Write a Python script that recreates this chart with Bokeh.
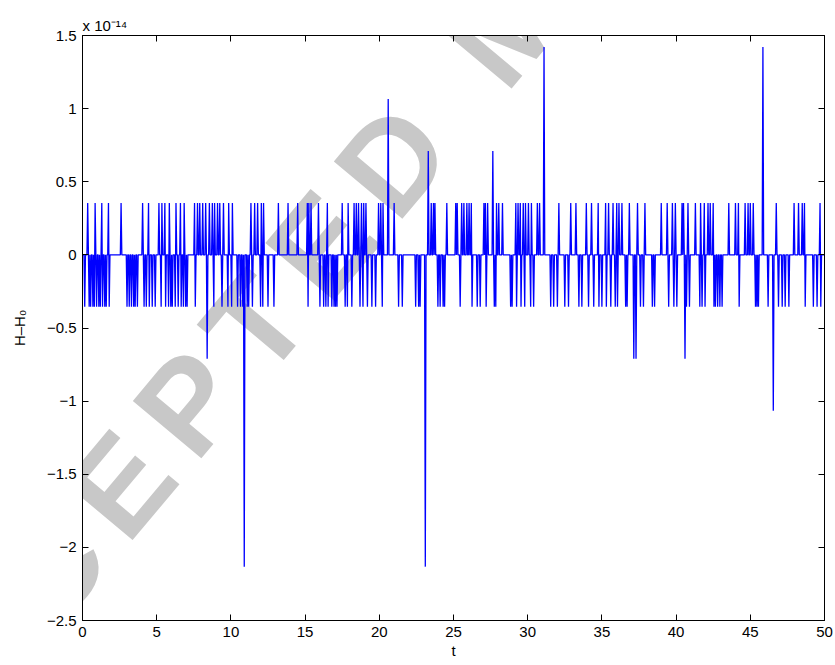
import math
import numpy as np
from bokeh.plotting import figure
from bokeh.models import Range1d, LinearAxis, FixedTicker, Label
from bokeh.embed import file_html
from bokeh.resources import INLINE

# ---- data ----
dt = 0.05
t_end = 50.0
unit = 2.0 ** -48 / 1e-14          # one round-off step, in units of 1e-14

up_t = [0.35, 0.85, 1.30, 1.75, 2.60, 4.05, 4.45, 5.15, 5.35, 5.55, 5.85, 6.30, 6.60, 6.85,
        7.55, 7.75, 7.90, 8.10, 8.30, 8.55, 8.75, 8.90, 9.10, 9.25, 9.50, 9.85, 10.10, 11.35,
        11.60, 11.80, 12.05, 12.20, 13.20, 13.85, 14.50, 15.15,
        15.25, 15.40, 15.90, 16.50, 17.50, 17.90, 18.30, 18.45, 18.60, 18.80, 18.95, 19.10,
        19.95, 20.10, 20.25, 21.00, 23.50, 23.65, 23.75,
        24.55, 25.15, 25.25, 25.55, 25.70, 25.90, 26.05, 26.20, 27.05, 27.15, 27.30, 27.90,
        28.05, 28.30, 29.20, 29.35, 29.50, 29.70, 29.85, 30.05, 30.25, 30.65, 30.80, 32.10,
        32.90, 33.25, 33.95, 34.30, 34.75, 35.25, 35.45, 35.75, 36.00, 36.15, 36.35, 36.85,
        37.40, 37.90, 39.00, 39.40, 39.75, 39.95,
        40.40, 40.50, 40.80, 41.30, 41.65, 41.90, 42.15, 42.30, 42.50, 43.55, 44.00, 44.20,
        44.65, 44.85, 45.00, 45.20, 46.75, 47.95, 48.25, 48.50, 48.65, 49.70]

down_t = [0.15, 0.45, 0.55, 0.70, 0.80, 0.95, 1.10, 1.20, 1.35, 1.50, 1.60, 1.80, 3.00, 3.15,
          3.30, 3.45, 3.55, 3.70, 4.15, 4.30, 4.50, 4.70, 4.90, 5.30, 5.60, 5.80, 5.95, 6.05,
          6.25, 6.45, 6.65, 6.80,
          6.95, 7.05, 7.60, 8.85, 9.40, 9.80, 10.05, 10.45, 10.65, 10.80, 11.10, 11.20, 11.45,
          12.00, 12.15, 12.50, 12.90,
          15.20, 16.00, 16.25, 16.40, 16.55, 16.80, 16.95, 17.05, 17.15, 17.70, 17.85, 18.15,
          18.70, 18.90, 19.20, 19.50, 19.75, 20.20, 21.30, 21.55, 22.45, 22.65, 22.75,
          23.95, 24.10, 24.30, 24.40, 25.45, 26.25, 26.60, 26.80, 27.20, 27.75, 27.85, 28.85,
          28.95, 29.25, 29.55, 29.80, 30.20, 30.40, 31.55, 31.75, 32.00,
          32.50, 32.75, 33.45, 33.65, 34.10, 34.45, 34.80, 35.00, 35.30, 35.60, 35.90, 36.05,
          36.60, 36.70, 37.60, 37.80, 38.40, 38.55, 39.50, 39.85, 40.05,
          40.70, 40.90, 41.60, 41.75, 41.95, 42.55, 42.65, 42.80, 42.95, 43.10, 44.25, 45.35,
          45.45, 45.55, 46.20, 46.90, 47.15, 47.35, 47.60, 48.70, 49.25, 49.50, 49.75]

spike_t = [8.40, 10.90, 20.60, 23.10, 23.30, 27.65, 31.10, 37.15, 37.30, 40.60, 45.85, 46.55]
spike_k = [-2, -6, 3, -6, 2, 2, 4, -2, -2, -2, 4, -3]

x_ticks = [0, 5, 10, 15, 20, 25, 30, 35, 40, 45, 50]
y_ticks = [-2.5, -2.0, -1.5, -1.0, -0.5, 0.0, 0.5, 1.0, 1.5]
y_tick_labels = ["\u22122.5", "\u22122", "\u22121.5", "\u22121", "\u22120.5", "0", "0.5", "1", "1.5"]

watermark = "ACCEPTED MANUSCRIPT"

# ---- build the series ----
n = int(round(t_end / dt)) + 1
t = np.arange(n) * dt
k = np.zeros(n)
k[np.rint(np.array(up_t) / dt).astype(int)] = 1
k[np.rint(np.array(down_t) / dt).astype(int)] = -1
k[np.rint(np.array(spike_t) / dt).astype(int)] = spike_k
h = k * unit

# ---- geometry of the frame on the canvas (pixels) ----
W, H = 835, 665
FL, FR, FT, FB = 82, 824, 35, 620
def to_data(px, py):
    return (px - FL) / (FR - FL) * 50.0, 1.5 - (py - FT) / (FB - FT) * 4.0

FONT = "Liberation Sans"

p = figure(width=W, height=H, output_backend="svg", toolbar_location=None,
           x_range=Range1d(0, 50), y_range=Range1d(-2.5, 1.5),
           min_border_left=FL, min_border_right=W - FR, min_border_top=FT,
           min_border_bottom=H - FB,
           background_fill_color="white", border_fill_color="white")
p.grid.visible = False
p.outline_line_color = "black"
p.outline_line_width = 1

# exponent of the y axis, written above the top-left corner
p.title.text = "x 10\u207b\u00b9\u2074"
p.title.align = "left"
p.title.text_font = FONT
p.title.text_font_size = "15px"
p.title.text_font_style = "normal"
p.title.text_color = "black"
p.title.standoff = 3

for ax in (p.xaxis[0], p.yaxis[0]):
    ax.major_tick_in = 6
    ax.major_tick_out = 0
    ax.minor_tick_line_color = None
    ax.axis_line_color = "black"
    ax.major_tick_line_color = "black"
    ax.major_label_text_font = FONT
    ax.major_label_text_font_size = "15px"
    ax.major_label_text_color = "black"
    ax.axis_label_text_font = FONT
    ax.axis_label_text_font_size = "15px"
    ax.axis_label_text_font_style = "normal"
    ax.axis_label_text_color = "black"

p.xaxis[0].ticker = FixedTicker(ticks=x_ticks)
p.xaxis[0].major_label_standoff = 6
p.xaxis[0].axis_label = "t"
p.xaxis[0].axis_label_standoff = 2
p.yaxis[0].ticker = FixedTicker(ticks=y_ticks)
p.yaxis[0].major_label_overrides = {v: s for v, s in zip(y_ticks, y_tick_labels)}
p.yaxis[0].major_label_standoff = 6
p.yaxis[0].axis_label = "H\u2013H\u2080"
p.yaxis[0].axis_label_standoff = 16

# ticks on the top and right sides of the box (no labels there)
for loc, tk in (("above", x_ticks), ("right", y_ticks)):
    ax = LinearAxis(ticker=FixedTicker(ticks=tk))
    ax.major_tick_in = 6
    ax.major_tick_out = 0
    ax.minor_tick_line_color = None
    ax.major_label_text_font_size = "1px"
    ax.major_label_text_color = None
    ax.major_label_standoff = 0
    ax.axis_line_color = "black"
    p.add_layout(ax, loc)

# watermark: spaced capitals along a diagonal, under the curve
wm_size = 130.0                      # px
wm_track = 20.0                      # extra px between letters
wm_angle = math.radians(50)
wm_adv = {"A": .722, "C": .722, "E": .667, "P": .667, "T": .611, "D": .722, " ": .278,
          "M": .833, "N": .722, "U": .722, "S": .667, "R": .722, "I": .278}
centers = [0.0]
for a, b in zip(watermark[:-1], watermark[1:]):
    centers.append(centers[-1] + (wm_adv[a] + wm_adv[b]) / 2 * wm_size + wm_track)
anchor_i = watermark.index("D")
ax0, ay0 = 392.0, 160.0              # canvas position of the "D"
dx, dy = math.cos(wm_angle), -math.sin(wm_angle)
for i, ch in enumerate(watermark):
    if ch == " ":
        continue
    s = centers[i] - centers[anchor_i]
    lx, ly = to_data(ax0 + s * dx, ay0 + s * dy)
    p.add_layout(Label(x=lx, y=ly, text=ch, angle=wm_angle,
                       text_align="center", text_baseline="middle", text_font=FONT,
                       text_font_size=f"{wm_size:.0f}px", text_font_style="bold",
                       text_color="#c8c8c8", level="underlay"))

p.line(t, h, line_color="#0000ff", line_width=1.3)

open("out.html", "w").write(file_html(p, INLINE))
